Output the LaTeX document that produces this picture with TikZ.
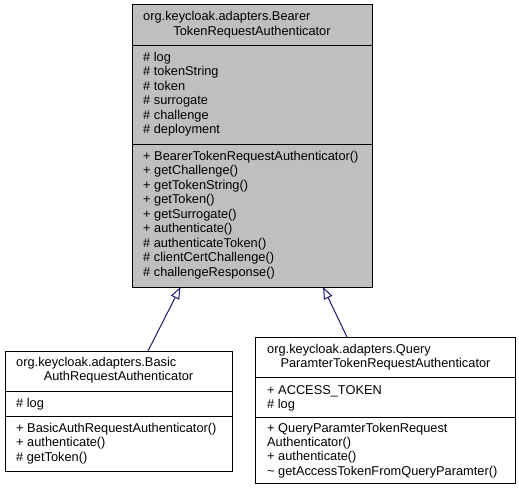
\documentclass[tikz,border=0pt]{standalone}
\usepackage{fontspec}
\setmainfont{Liberation Sans}
\usetikzlibrary{arrows.meta}
\definecolor{boxgray}{RGB}{191,191,191}
\definecolor{edgeblue}{RGB}{25,25,112}
\begin{document}
\begin{tikzpicture}[x=1pt,y=-1pt,
  box/.style={draw=black, line width=1pt, inner sep=0pt, outer sep=0pt, anchor=north west},
  clsbox/.style={box, fill=white},
  basebox/.style={box, fill=boxgray},
  sepline/.style={draw=black, line width=1pt},
  txt/.style={anchor=base west, inner sep=0pt, font=\fontsize{12.8}{14.5}\selectfont},
  ctxt/.style={anchor=base, inner sep=0pt, font=\fontsize{12.8}{14.5}\selectfont},
  inherit/.style={draw=edgeblue, line width=1pt, -{Triangle[open,length=12pt,width=9pt,line width=1pt]}}
]
\useasboundingbox (0,0) rectangle (519,492);

% ---- base class
\node[basebox, minimum width=240pt, minimum height=282pt] (A) at (132,5) {};
\draw[sepline] (132,46) -- (372,46);
\draw[sepline] (132,144) -- (372,144);
\node[txt]  (At1) at (143,21) {org.keycloak.adapters.Bearer};
\node[ctxt] (At2) at (252,35.5) {TokenRequestAuthenticator};
\node[txt] (Aa1) at (143,61.5) {\# log};
\node[txt] (Aa2) at (143,76) {\# tokenString};
\node[txt] (Aa3) at (143,90.5) {\# token};
\node[txt] (Aa4) at (143,105) {\# surrogate};
\node[txt] (Aa5) at (143,119.5) {\# challenge};
\node[txt] (Aa6) at (143,134) {\# deployment};
\node[txt] (Am1) at (143,160) {+ BearerTokenRequestAuthenticator()};
\node[txt] (Am2) at (143,174.5) {+ getChallenge()};
\node[txt] (Am3) at (143,189) {+ getTokenString()};
\node[txt] (Am4) at (143,203.5) {+ getToken()};
\node[txt] (Am5) at (143,218) {+ getSurrogate()};
\node[txt] (Am6) at (143,232.5) {+ authenticate()};
\node[txt] (Am7) at (143,247) {\# authenticateToken()};
\node[txt] (Am8) at (143,261.5) {\# clientCertChallenge()};
\node[txt] (Am9) at (143,276) {\# challengeResponse()};

% ---- BasicAuthRequestAuthenticator
\node[clsbox, minimum width=227pt, minimum height=120.5pt] (B) at (5,351) {};
\draw[sepline] (5,391) -- (232,391);
\draw[sepline] (5,416) -- (232,416);
\node[txt]  (Bt1) at (16,366) {org.keycloak.adapters.Basic};
\node[ctxt] (Bt2) at (118.5,380.5) {AuthRequestAuthenticator};
\node[txt] (Ba1) at (16,407) {\# log};
\node[txt] (Bm1) at (16,432) {+ BasicAuthRequestAuthenticator()};
\node[txt] (Bm2) at (16,446.5) {+ authenticate()};
\node[txt] (Bm3) at (16,461) {\# getToken()};

% ---- QueryParamterTokenRequestAuthenticator
\node[clsbox, minimum width=260pt, minimum height=146pt] (C) at (255.5,337) {};
\draw[sepline] (255.5,377) -- (515.5,377);
\draw[sepline] (255.5,417) -- (515.5,417);
\node[txt]  (Ct1) at (267,353) {org.keycloak.adapters.Query};
\node[ctxt] (Ct2) at (385.5,367.5) {ParamterTokenRequestAuthenticator};
\node[txt] (Ca1) at (267,394) {+ ACCESS\_TOKEN};
\node[txt] (Ca2) at (267,408) {\# log};
\node[txt] (Cm1) at (267,432) {+ QueryParamterTokenRequest};
\node[txt] (Cm2) at (267,446.3) {Authenticator()};
\node[txt] (Cm3) at (267,460.6) {+ authenticate()};
\node[txt] (Cm4) at (267,475) {\textasciitilde\ getAccessTokenFromQueryParamter()};

% ---- inheritance edges
\draw[inherit] ([xshift=29.5pt]B.north) -- ([xshift=-71.5pt]A.south);
\draw[inherit] ([xshift=-38.5pt]C.north) -- ([xshift=71pt]A.south);
\end{tikzpicture}
\end{document}
